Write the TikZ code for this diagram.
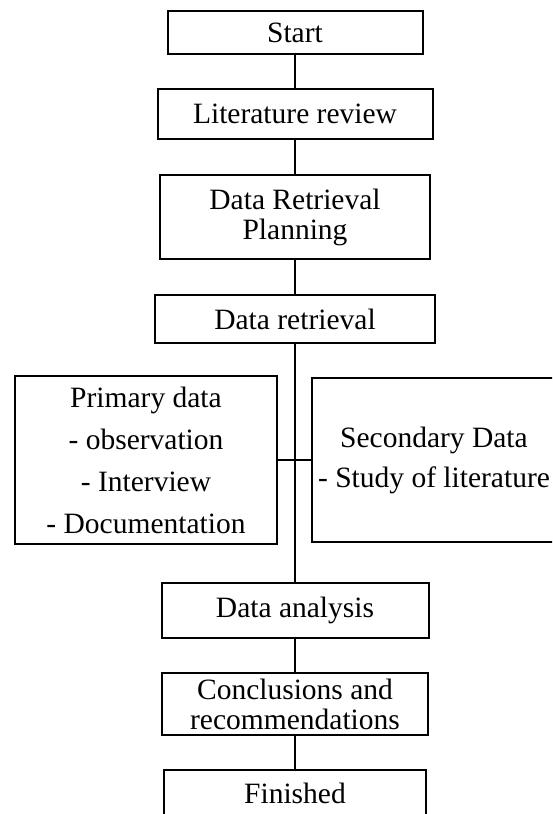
\documentclass[tikz,border=0pt]{standalone}
\usepackage{fontspec}
\setmainfont{Liberation Serif}
\begin{document}
\begin{tikzpicture}[x=1pt,y=-1pt,
  box/.style={draw=black, line width=2pt, fill=white, inner sep=0pt, align=center,
    font=\fontsize{29.5}{30}\selectfont},
  link/.style={draw=black, line width=2pt}]
\useasboundingbox (0,0) rectangle (552,814);
\clip (0,0) rectangle (552,814);
\node[box, minimum width=255pt, minimum height=43pt] (start) at (295,32.5) {Start};
\node[box, minimum width=275pt, minimum height=50pt] (lit) at (295,114) {Literature review};
\node[box, minimum width=270pt, minimum height=84pt] (plan) at (295,217) {Data Retrieval\\Planning};
\node[box, minimum width=280pt, minimum height=48pt] (ret) at (295,319) {Data retrieval};
\node[box, minimum width=262pt, minimum height=168pt, font=\fontsize{29.5}{42}\selectfont] (prim) at (146,460)
  {Primary data\\- observation\\- Interview\\- Documentation};
\node[box, minimum width=244pt, minimum height=164pt, font=\fontsize{29.5}{40}\selectfont] (sec) at (434,460)
  {Secondary Data\\- Study of literature};
\node[box, minimum width=267pt, minimum height=55pt] (ana) at (295,610.5) {Data analysis};
\node[box, minimum width=266pt, minimum height=62pt] (conc) at (295,704) {Conclusions and\\recommendations};
\node[box, minimum width=262pt, minimum height=46pt] (fin) at (295,793) {Finished};
\draw[link] (start) -- (lit);
\draw[link] (lit) -- (plan);
\draw[link] (plan) -- (ret);
\draw[link] (ret) -- (ana);
\draw[link] (prim) -- (sec);
\draw[link] (ana) -- (conc);
\draw[link] (conc) -- (fin);
\end{tikzpicture}
\end{document}
